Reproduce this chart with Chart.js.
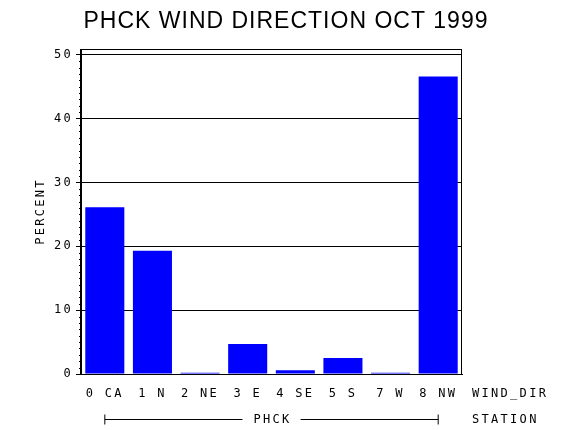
<!DOCTYPE html>
<html>
<head>
<meta charset="utf-8">
<script src="https://cdn.jsdelivr.net/npm/chart.js@4/dist/chart.umd.min.js"></script>
<style>
html, body { margin: 0; padding: 0; background: #fff; }
</style>
</head>
<body>
<canvas id="c" width="570" height="430"></canvas>
<script>
var chartTitle = 'PHCK WIND DIRECTION OCT 1999';
var station = 'PHCK';
var dirLabels = ['0 CA', '1 N', '2 NE', '3 E', '4 SE', '5 S', '7 W', '8 NW'];
var percent = [26.1, 19.3, 0.2, 4.7, 0.6, 2.5, 0.2, 46.6];
var yMin = 0;
var yMax = 50.9;
var yStep = 10;
var yMinorStep = 1;

var monoFont = "12px 'DejaVu Sans Mono'";

// frame, minor ticks, title and the station bracket
var extras = {
  id: 'extras',
  beforeDraw: function (chart) {
    chart.ctx.letterSpacing = '2.3px';
  },
  afterDraw: function (chart) {
    var ctx = chart.ctx;
    var a = chart.chartArea;
    var x = chart.scales.x;
    var y = chart.scales.y;
    ctx.save();
    ctx.strokeStyle = '#000';
    ctx.lineWidth = 1;
    ctx.strokeRect(Math.round(a.left) - 0.5, Math.round(a.top) + 0.5,
      Math.round(a.right - a.left), Math.round(a.bottom - a.top));

    // minor ticks on the y axis
    ctx.beginPath();
    for (var v = yMin + yMinorStep; v < yMax; v += yMinorStep) {
      if (v % yStep === 0) continue;
      var py = Math.round(y.getPixelForValue(v)) + 0.5;
      ctx.moveTo(a.left - 2, py);
      ctx.lineTo(a.left, py);
    }
    ctx.stroke();

    ctx.fillStyle = '#000';
    ctx.font = "23px 'Liberation Sans'";
    ctx.letterSpacing = '1px';
    ctx.textAlign = 'center';
    ctx.textBaseline = 'alphabetic';
    ctx.fillText(chartTitle, 286, 28);

    ctx.font = monoFont;
    ctx.letterSpacing = '2.3px';
    ctx.textAlign = 'left';
    ctx.textBaseline = 'middle';
    ctx.fillText('WIND_DIR', a.right + 10, 394);
    ctx.fillText('STATION', a.right + 10, 420);

    // bracket under the categories
    var x0 = x.getPixelForValue(0);
    var x1 = x.getPixelForValue(dirLabels.length - 1);
    var mid = (x0 + x1) / 2;
    var by = 419.5;
    var tw = ctx.measureText(station).width;
    ctx.beginPath();
    ctx.moveTo(x0, by - 5); ctx.lineTo(x0, by + 5);
    ctx.moveTo(x1, by - 5); ctx.lineTo(x1, by + 5);
    ctx.moveTo(x0, by); ctx.lineTo(mid - tw / 2 - 10, by);
    ctx.moveTo(mid + tw / 2 + 10, by); ctx.lineTo(x1, by);
    ctx.stroke();
    ctx.textAlign = 'center';
    ctx.fillText(station, mid + 1, 420);
    ctx.restore();
  }
};

var ctx = document.getElementById('c').getContext('2d');
var myChart = new Chart(ctx, {
  type: 'bar',
  data: {
    labels: dirLabels,
    datasets: [{
      data: percent,
      backgroundColor: '#0000ff',
      borderWidth: 0,
      categoryPercentage: 1,
      barPercentage: 0.82,
    }],
  },
  options: {
    responsive: false,
    animation: false,
    devicePixelRatio: 1,
    layout: {
      padding: { top: 49, right: 108, bottom: 0, left: 0 },
    },
    plugins: {
      legend: { display: false },
      tooltip: { enabled: false },
    },
    scales: {
      x: {
        grid: { display: false, drawTicks: false },
        border: { display: true, color: '#000', width: 1 },
        ticks: {
          color: '#000',
          font: { family: 'DejaVu Sans Mono', size: 12 },
          padding: 13,
          maxRotation: 0,
          autoSkip: false,
        },
        afterFit: function (scale) { scale.height = 56; },
      },
      y: {
        min: yMin,
        max: yMax,
        grid: { color: '#000', tickLength: 5, tickColor: '#000' },
        border: { display: true, color: '#000', width: 1 },
        ticks: {
          stepSize: yStep,
          includeBounds: false,
          color: '#000',
          font: { family: 'DejaVu Sans Mono', size: 12 },
          padding: 3,
        },
        title: {
          display: true,
          text: 'PERCENT',
          color: '#000',
          font: { family: 'DejaVu Sans Mono', size: 12 },
          padding: { top: 34, bottom: 0 },
        },
        afterFit: function (scale) { scale.width = 81; },
      },
    },
  },
  plugins: [extras],
});
</script>
</body>
</html>
